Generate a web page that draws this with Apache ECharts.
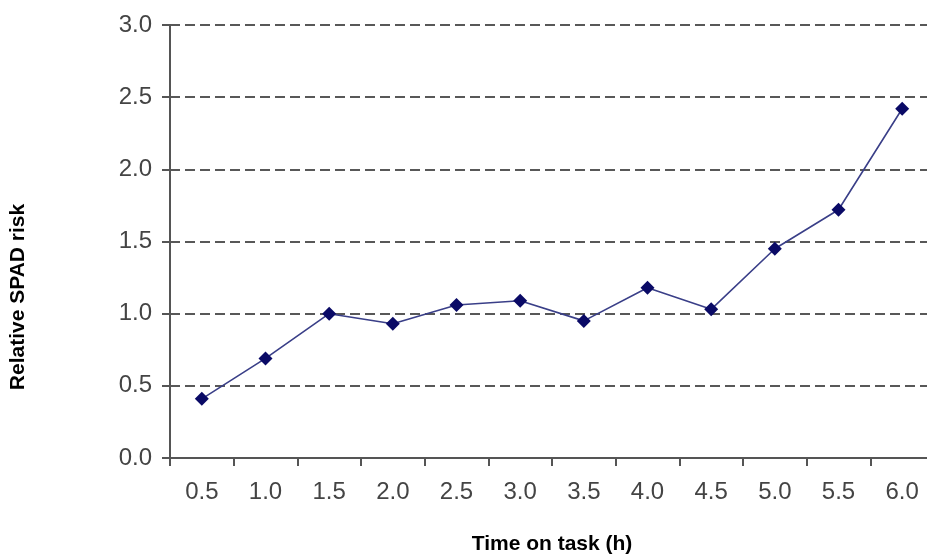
<!DOCTYPE html>
<html><head><meta charset="utf-8">
<script src="https://cdn.jsdelivr.net/npm/echarts@6/dist/echarts.min.js"></script>
<style>html,body{margin:0;padding:0;background:#fff}#c{width:927px;height:554px}</style>
</head><body><div id="c"></div>
<script>
const categories = ['0.5','1.0','1.5','2.0','2.5','3.0','3.5','4.0','4.5','5.0','5.5','6.0'];
const riskValues = [0.41,0.69,1.00,0.93,1.06,1.09,0.95,1.18,1.03,1.45,1.72,2.42];
const yTicks = {min:0, max:3, interval:0.5};
const xTitle = 'Time on task (h)';
const yTitle = 'Relative SPAD risk';

const chart = echarts.init(document.getElementById('c'));
chart.setOption({
  animation:false,
  textStyle:{fontFamily:'Liberation Sans, Arial, sans-serif'},
  grid:{left:170, top:25, width:764, height:433, outerBoundsMode:'none', containLabel:false},
  xAxis:{
    type:'category', data:categories, boundaryGap:true,
    name:xTitle, nameLocation:'middle', nameGap:76,
    nameTextStyle:{fontSize:21, fontWeight:'bold', color:'#000'},
    axisLine:{lineStyle:{color:'#555', width:2}},
    axisTick:{show:true, length:8, alignWithLabel:false, lineStyle:{color:'#555', width:2}},
    axisLabel:{fontSize:24, color:'#444', margin:22}
  },
  yAxis:{
    type:'value', min:yTicks.min, max:yTicks.max, interval:yTicks.interval,
    axisLine:{show:true, lineStyle:{color:'#555', width:2}},
    axisTick:{show:true, length:8, lineStyle:{color:'#555', width:2}},
    axisLabel:{fontSize:24, color:'#444', margin:18, formatter:v=>v.toFixed(1)},
    splitLine:{show:true, lineStyle:{color:'#222', type:[10,5], width:1.5}}
  },
  graphic:[{
    type:'text', rotation:Math.PI/2, x:18, y:297,
    style:{text:yTitle, fontSize:21, fontWeight:'bold', fill:'#000',
      fontFamily:'Liberation Sans, Arial, sans-serif', align:'center', verticalAlign:'middle'}
  }],
  series:[{
    type:'line', data:riskValues,
    symbol:'diamond', symbolSize:14,
    lineStyle:{color:'#3a3f88', width:1.6},
    itemStyle:{color:'#0a0a66'}
  }]
});
</script></body></html>
